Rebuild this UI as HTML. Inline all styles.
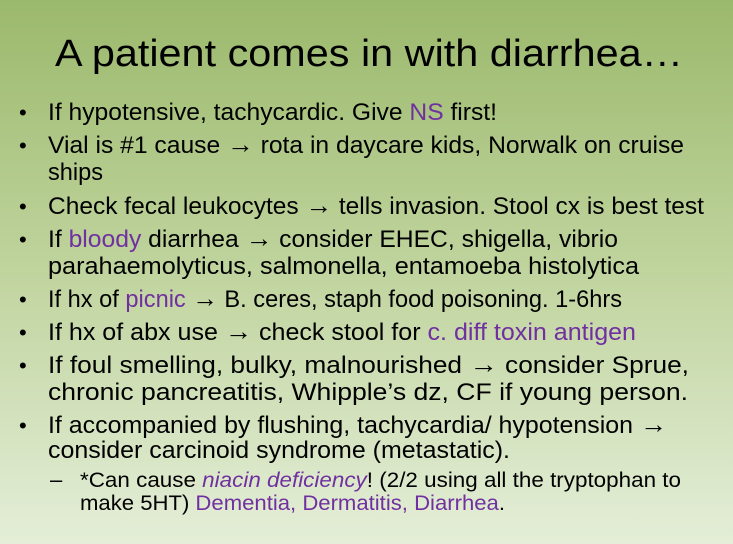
<!DOCTYPE html>
<html><head><meta charset="utf-8"><style>
html,body{margin:0;padding:0;width:733px;height:544px;overflow:hidden}
svg{display:block}
text{font-family:"Liberation Sans",sans-serif;fill:#000}
.p{fill:#7030a0}
.a{font-weight:bold;font-size:26px}
</style></head><body>
<svg width="733" height="544">
<defs><linearGradient id="g" x1="0" y1="0" x2="0" y2="1">
<stop offset="0" stop-color="#9bb96c"/><stop offset="0.5" stop-color="#c0d49e"/><stop offset="1" stop-color="#e4eed8"/></linearGradient></defs>
<rect width="733" height="544" fill="url(#g)"/>
<text x="55" y="66" font-size="38" textLength="628" lengthAdjust="spacingAndGlyphs">A patient comes in with diarrhea…</text>
<g font-size="24">
<g font-size="22">
<text x="19" y="120">•</text><text x="19" y="153">•</text><text x="19" y="214">•</text><text x="19" y="247">•</text><text x="19" y="307">•</text><text x="19" y="340">•</text><text x="19" y="373">•</text><text x="19" y="433">•</text>
<text x="50" y="487">–</text>
</g>
<text x="48" y="120" textLength="449" lengthAdjust="spacingAndGlyphs">If hypotensive, tachycardic. Give <tspan class="p">NS</tspan> first!</text>
<text x="48" y="153" textLength="636" lengthAdjust="spacingAndGlyphs">Vial is #1 cause <tspan class="a">→</tspan> rota in daycare kids, Norwalk on cruise</text>
<text x="48" y="180" textLength="55" lengthAdjust="spacingAndGlyphs">ships</text>
<text x="48" y="214" textLength="656" lengthAdjust="spacingAndGlyphs">Check fecal leukocytes <tspan class="a">→</tspan> tells invasion. Stool cx is best test</text>
<text x="48" y="247" textLength="570" lengthAdjust="spacingAndGlyphs">If <tspan class="p">bloody</tspan> diarrhea <tspan class="a">→</tspan> consider EHEC, shigella, vibrio</text>
<text x="48" y="274" textLength="591" lengthAdjust="spacingAndGlyphs">parahaemolyticus, salmonella, entamoeba histolytica</text>
<text x="48" y="307" textLength="574" lengthAdjust="spacingAndGlyphs">If hx of <tspan class="p">picnic</tspan> <tspan class="a">→</tspan> B. ceres, staph food poisoning. 1-6hrs</text>
<text x="48" y="340" textLength="588" lengthAdjust="spacingAndGlyphs">If hx of abx use <tspan class="a">→</tspan> check stool for <tspan class="p">c. diff toxin antigen</tspan></text>
<text x="48" y="373" textLength="641" lengthAdjust="spacingAndGlyphs">If foul smelling, bulky, malnourished <tspan class="a">→</tspan> consider Sprue,</text>
<text x="48" y="400" textLength="640" lengthAdjust="spacingAndGlyphs">chronic pancreatitis, Whipple’s dz, CF if young person.</text>
<text x="48" y="433" textLength="619" lengthAdjust="spacingAndGlyphs">If accompanied by flushing, tachycardia/ hypotension <tspan class="a">→</tspan></text>
<text x="48" y="458" textLength="462" lengthAdjust="spacingAndGlyphs">consider carcinoid syndrome (metastatic).</text>
<g font-size="21">
<text x="80" y="487" textLength="601" lengthAdjust="spacingAndGlyphs">*Can cause <tspan class="p" font-style="italic">niacin deficiency</tspan>! (2/2 using all the tryptophan to</text>
<text x="80" y="510" textLength="425" lengthAdjust="spacingAndGlyphs">make 5HT) <tspan class="p">Dementia, Dermatitis, Diarrhea</tspan>.</text>
</g>
</g>
</svg>
</body></html>
